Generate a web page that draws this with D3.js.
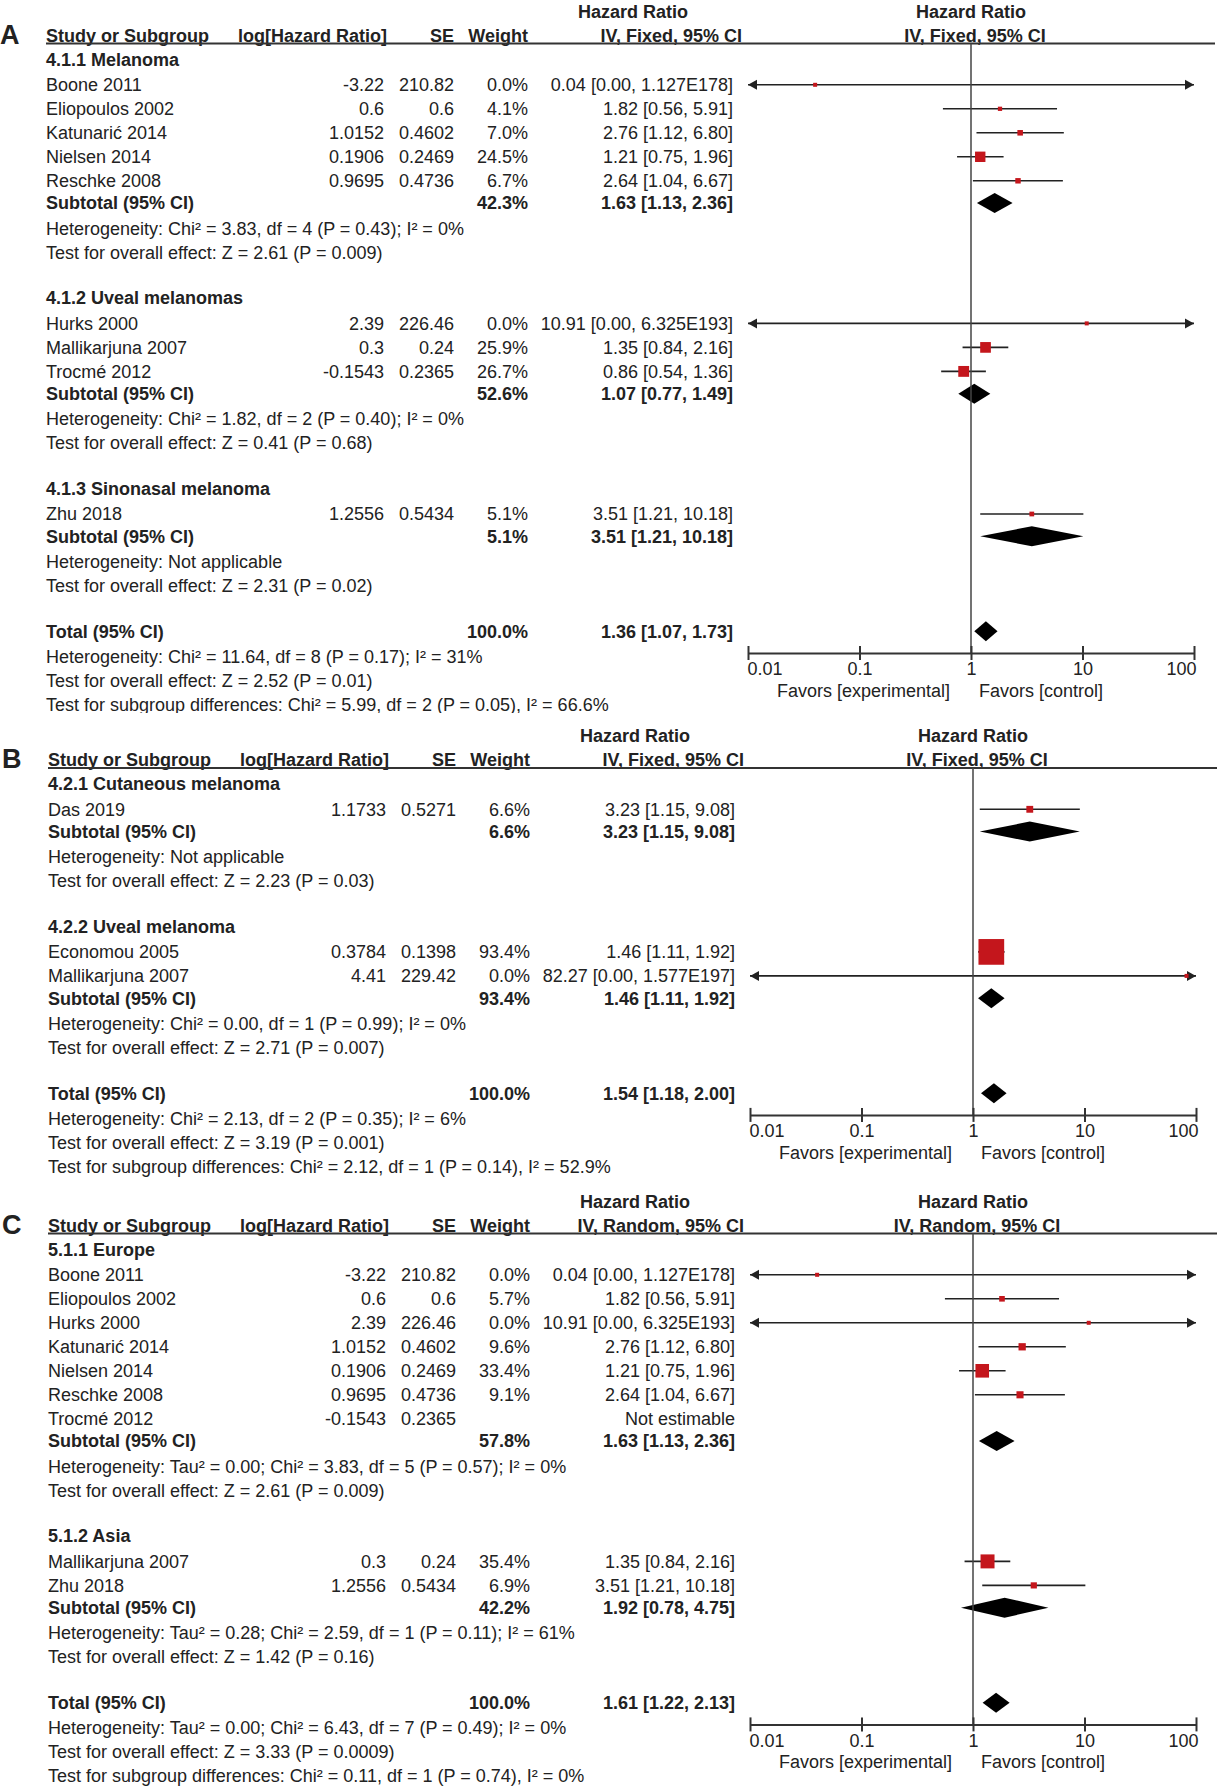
<!DOCTYPE html>
<html>
<head>
<meta charset="utf-8">
<script src="https://cdn.jsdelivr.net/npm/d3@7"></script>
<style>
  body { margin: 0; background: #fff; }
  text { font-family: "Liberation Sans", Arial, sans-serif; fill: #222; }
</style>
</head>
<body>
<svg id="chart"></svg>
<script>
// forest plots A, B, C - rows

// ---- data ----
var rowsA = [
  {type: "group", label: "4.1.1 Melanoma"},
  {type: "study", label: "Boone 2011", logHR: -3.22, se: 210.82, w: 0.0, hr: 0.04, lo: 0.00, hi: 1.127e178},
  {type: "study", label: "Eliopoulos 2002", logHR: 0.6, se: 0.6, w: 4.1, hr: 1.82, lo: 0.56, hi: 5.91},
  {type: "study", label: "Katunarić  2014", logHR: 1.0152, se: 0.4602, w: 7.0, hr: 2.76, lo: 1.12, hi: 6.80},
  {type: "study", label: "Nielsen 2014", logHR: 0.1906, se: 0.2469, w: 24.5, hr: 1.21, lo: 0.75, hi: 1.96},
  {type: "study", label: "Reschke 2008", logHR: 0.9695, se: 0.4736, w: 6.7, hr: 2.64, lo: 1.04, hi: 6.67},
  {type: "sub", label: "Subtotal (95% CI)", w: 42.3, hr: 1.63, lo: 1.13, hi: 2.36},
  {type: "note", label: "Heterogeneity: Chi² = 3.83, df = 4 (P = 0.43); I² = 0%"},
  {type: "note", label: "Test for overall effect: Z = 2.61 (P = 0.009)"},
  {type: "blank"},
  {type: "group", label: "4.1.2 Uveal melanomas"},
  {type: "study", label: "Hurks 2000", logHR: 2.39, se: 226.46, w: 0.0, hr: 10.91, lo: 0.00, hi: 6.325e193},
  {type: "study", label: "Mallikarjuna 2007", logHR: 0.3, se: 0.24, w: 25.9, hr: 1.35, lo: 0.84, hi: 2.16},
  {type: "study", label: "Trocmé 2012", logHR: -0.1543, se: 0.2365, w: 26.7, hr: 0.86, lo: 0.54, hi: 1.36},
  {type: "sub", label: "Subtotal (95% CI)", w: 52.6, hr: 1.07, lo: 0.77, hi: 1.49},
  {type: "note", label: "Heterogeneity: Chi² = 1.82, df = 2 (P = 0.40); I² = 0%"},
  {type: "note", label: "Test for overall effect: Z = 0.41 (P = 0.68)"},
  {type: "blank"},
  {type: "group", label: "4.1.3 Sinonasal melanoma"},
  {type: "study", label: "Zhu 2018", logHR: 1.2556, se: 0.5434, w: 5.1, hr: 3.51, lo: 1.21, hi: 10.18},
  {type: "sub", label: "Subtotal (95% CI)", w: 5.1, hr: 3.51, lo: 1.21, hi: 10.18},
  {type: "note", label: "Heterogeneity: Not applicable"},
  {type: "note", label: "Test for overall effect: Z = 2.31 (P = 0.02)"},
  {type: "blank"},
  {type: "total", label: "Total (95% CI)", w: 100.0, hr: 1.36, lo: 1.07, hi: 1.73},
  {type: "note", label: "Heterogeneity: Chi² = 11.64, df = 8 (P = 0.17); I² = 31%"},
  {type: "note", label: "Test for overall effect: Z = 2.52 (P = 0.01)"},
  {type: "note", label: "Test for subgroup differences: Chi² = 5.99, df = 2 (P = 0.05), I² = 66.6%"}
];

var rowsB = [
  {type: "group", label: "4.2.1 Cutaneous melanoma"},
  {type: "study", label: "Das 2019", logHR: 1.1733, se: 0.5271, w: 6.6, hr: 3.23, lo: 1.15, hi: 9.08},
  {type: "sub", label: "Subtotal (95% CI)", w: 6.6, hr: 3.23, lo: 1.15, hi: 9.08},
  {type: "note", label: "Heterogeneity: Not applicable"},
  {type: "note", label: "Test for overall effect: Z = 2.23 (P = 0.03)"},
  {type: "blank"},
  {type: "group", label: "4.2.2 Uveal melanoma"},
  {type: "study", label: "Economou 2005", logHR: 0.3784, se: 0.1398, w: 93.4, hr: 1.46, lo: 1.11, hi: 1.92},
  {type: "study", label: "Mallikarjuna 2007", logHR: 4.41, se: 229.42, w: 0.0, hr: 82.27, lo: 0.00, hi: 1.577e197},
  {type: "sub", label: "Subtotal (95% CI)", w: 93.4, hr: 1.46, lo: 1.11, hi: 1.92},
  {type: "note", label: "Heterogeneity: Chi² = 0.00, df = 1 (P = 0.99); I² = 0%"},
  {type: "note", label: "Test for overall effect: Z = 2.71 (P = 0.007)"},
  {type: "blank"},
  {type: "total", label: "Total (95% CI)", w: 100.0, hr: 1.54, lo: 1.18, hi: 2.00},
  {type: "note", label: "Heterogeneity: Chi² = 2.13, df = 2 (P = 0.35); I² = 6%"},
  {type: "note", label: "Test for overall effect: Z = 3.19 (P = 0.001)"},
  {type: "note", label: "Test for subgroup differences: Chi² = 2.12, df = 1 (P = 0.14), I² = 52.9%"}
];

var rowsC = [
  {type: "group", label: "5.1.1 Europe"},
  {type: "study", label: "Boone 2011", logHR: -3.22, se: 210.82, w: 0.0, hr: 0.04, lo: 0.00, hi: 1.127e178},
  {type: "study", label: "Eliopoulos 2002", logHR: 0.6, se: 0.6, w: 5.7, hr: 1.82, lo: 0.56, hi: 5.91},
  {type: "study", label: "Hurks 2000", logHR: 2.39, se: 226.46, w: 0.0, hr: 10.91, lo: 0.00, hi: 6.325e193},
  {type: "study", label: "Katunarić  2014", logHR: 1.0152, se: 0.4602, w: 9.6, hr: 2.76, lo: 1.12, hi: 6.80},
  {type: "study", label: "Nielsen 2014", logHR: 0.1906, se: 0.2469, w: 33.4, hr: 1.21, lo: 0.75, hi: 1.96},
  {type: "study", label: "Reschke 2008", logHR: 0.9695, se: 0.4736, w: 9.1, hr: 2.64, lo: 1.04, hi: 6.67},
  {type: "study", label: "Trocmé 2012", logHR: -0.1543, se: 0.2365, w: null, hr: null},
  {type: "sub", label: "Subtotal (95% CI)", w: 57.8, hr: 1.63, lo: 1.13, hi: 2.36},
  {type: "note", label: "Heterogeneity: Tau² = 0.00; Chi² = 3.83, df = 5 (P = 0.57); I² = 0%"},
  {type: "note", label: "Test for overall effect: Z = 2.61 (P = 0.009)"},
  {type: "blank"},
  {type: "group", label: "5.1.2 Asia"},
  {type: "study", label: "Mallikarjuna 2007", logHR: 0.3, se: 0.24, w: 35.4, hr: 1.35, lo: 0.84, hi: 2.16},
  {type: "study", label: "Zhu 2018", logHR: 1.2556, se: 0.5434, w: 6.9, hr: 3.51, lo: 1.21, hi: 10.18},
  {type: "sub", label: "Subtotal (95% CI)", w: 42.2, hr: 1.92, lo: 0.78, hi: 4.75},
  {type: "note", label: "Heterogeneity: Tau² = 0.28; Chi² = 2.59, df = 1 (P = 0.11); I² = 61%"},
  {type: "note", label: "Test for overall effect: Z = 1.42 (P = 0.16)"},
  {type: "blank"},
  {type: "total", label: "Total (95% CI)", w: 100.0, hr: 1.61, lo: 1.22, hi: 2.13},
  {type: "note", label: "Heterogeneity: Tau² = 0.00; Chi² = 6.43, df = 7 (P = 0.49); I² = 0%"},
  {type: "note", label: "Test for overall effect: Z = 3.33 (P = 0.0009)"},
  {type: "note", label: "Test for subgroup differences: Chi² = 0.11, df = 1 (P = 0.74), I² = 0%"}
];

var axisTicks = [0.01, 0.1, 1, 10, 100];
var tickLabels = ["0.01", "0.1", "1", "10", "100"];
var colHeaders = ["Study or Subgroup", "log[Hazard Ratio]", "SE", "Weight"];
var favorLabels = ["Favors [experimental]", "Favors [control]"];

// ---- layout ----
var WIDTH = 1218, HEIGHT = 1786;
var FS = 18, STEP = 24;
var RED = "#c4161c";

var panels = [
  {letter: "A", rows: rowsA, method: "IV, Fixed, 95% CI", headY: 35.5, dx: 0, k: 2.1, clipTop: 0, clipBottom: 713},
  {letter: "B", rows: rowsB, method: "IV, Fixed, 95% CI", headY: 760, dx: 2, k: 2.66, clipTop: 716, clipBottom: 1177},
  {letter: "C", rows: rowsC, method: "IV, Random, 95% CI", headY: 1225.5, dx: 2, k: 2.35, clipTop: 1180, clipBottom: 1786}
];

// vertical gap before a row, depends on what came before it
function gapBefore(prev, cur){
    if (cur == "blank") return 21.7;
    if (prev == "group") return 25.3;
    if (cur == "sub") return 22.3;
    if (cur == "note" && (prev == "sub" || prev == "total")) return 25.3;
    return STEP;
}

var svg = d3.select("#chart").attr("width", WIDTH).attr("height", HEIGHT);
svg.append("rect").attr("width", WIDTH).attr("height", HEIGHT).attr("fill", "#fff");

var x = d3.scaleLog().domain([0.01, 100]).range([748, 1194]);

function fmt(v){
    return v > 1e6 ? v.toExponential(3).replace("e+", "E") : v.toFixed(2);
}
function ciText(d){
    if (d.hr == null) return "Not estimable";
    return fmt(d.hr) + " [" + fmt(d.lo) + ", " + fmt(d.hi) + "]";
}

function txt(g, s, xx, yy, anchor, bold, size){
    return g.append("text")
        .text(s)
        .attr("x", xx)
        .attr("y", yy)
        .attr("dy", "0.35em")
        .attr("text-anchor", anchor || "start")
        .style("font-size", (size || FS) + "px")
        .style("font-weight", bold ? "bold" : "normal");
}

panels.forEach(function(p, n){
    svg.append("clipPath").attr("id", "clip" + n)
        .append("rect").attr("x", 0).attr("y", p.clipTop)
        .attr("width", WIDTH).attr("height", p.clipBottom - p.clipTop);

    var g = svg.append("g")
        .attr("clip-path", "url(#clip" + n + ")")
        .attr("transform", "translate(" + p.dx + ",0)");

    var hy = p.headY;

    // titles
    txt(g, "Hazard Ratio", 633, hy - STEP, "middle", true);
    txt(g, "Hazard Ratio", 971, hy - STEP, "middle", true);

    // column headers
    txt(g, colHeaders[0], 46, hy, "start", true);
    txt(g, colHeaders[1], 387, hy, "end", true);
    txt(g, colHeaders[2], 454, hy, "end", true);
    txt(g, colHeaders[3], 528, hy, "end", true);
    txt(g, p.method, 742, hy, "end", true);
    txt(g, p.method, 975, hy, "middle", true);

    g.append("line")
        .attr("x1", 46).attr("x2", 1215)
        .attr("y1", hy + 8).attr("y2", hy + 8)
        .attr("stroke", "#333").attr("stroke-width", 2);

    txt(svg, p.letter, p.dx, hy - 1, "start", true, 27);

    var totalY = 0, y = hy, prev = "head";
    p.rows.forEach(function(d){
        y += (prev == "head") ? STEP : gapBefore(prev, d.type);
        prev = d.type;
        if (d.type == "group") {
            txt(g, d.label, 46, y, "start", true);
        } else if (d.type == "note") {
            txt(g, d.label, 46, y, "start", false);
        } else if (d.type == "study") {
            txt(g, d.label, 46, y, "start", false);
            txt(g, String(d.logHR), 384, y, "end", false);
            txt(g, String(d.se), 454, y, "end", false);
            if (d.w != null) txt(g, d.w.toFixed(1) + "%", 528, y, "end", false);
            txt(g, ciText(d), 733, y, "end", false);

            if (d.hr != null) {
                var lo = Math.max(d.lo, 0.01), hi = Math.min(d.hi, 100);
                g.append("line")
                    .attr("x1", x(lo)).attr("x2", x(hi))
                    .attr("y1", y).attr("y2", y)
                    .attr("stroke", "#222").attr("stroke-width", 1.6);
                if (d.lo < 0.01) {
                    var ax = x(0.01);
                    g.append("path").attr("d", "M" + ax + "," + y + "l9,-5l0,10z").attr("fill", "#222");
                }
                if (d.hi > 100) {
                    var bx = x(100);
                    g.append("path").attr("d", "M" + bx + "," + y + "l-9,-5l0,10z").attr("fill", "#222");
                }
                var s = Math.max(4, p.k * Math.sqrt(d.w));
                g.append("rect")
                    .attr("x", x(d.hr) - s / 2).attr("y", y - s / 2)
                    .attr("width", s).attr("height", s)
                    .attr("fill", RED);
            }
        } else if (d.type == "sub" || d.type == "total") {
            txt(g, d.label, 46, y, "start", true);
            txt(g, d.w.toFixed(1) + "%", 528, y, "end", true);
            txt(g, ciText(d), 733, y, "end", true);
            g.append("path")
                .attr("d", "M" + x(d.lo) + "," + y +
                           "L" + x(d.hr) + "," + (y - 10) +
                           "L" + x(d.hi) + "," + y +
                           "L" + x(d.hr) + "," + (y + 10) + "Z")
                .attr("fill", "#000");
            if (d.type == "total") totalY = y;
        }
    });

    var axisY = totalY + 21.7;

    // no-effect line
    g.append("line")
        .attr("x1", x(1)).attr("x2", x(1))
        .attr("y1", hy + 8).attr("y2", axisY)
        .attr("stroke", "#444").attr("stroke-width", 1.5);

    var axis = d3.axisBottom(x)
        .tickValues(axisTicks)
        .tickFormat(function(d, i){ return tickLabels[i]; })
        .tickSizeOuter(0);

    var ag = g.append("g")
        .attr("transform", "translate(0," + axisY + ")")
        .call(axis);
    ag.select(".domain").attr("stroke", "#333").attr("stroke-width", 2);
    ag.selectAll(".tick line").attr("y1", -7).attr("y2", 7).attr("stroke", "#333").attr("stroke-width", 2);
    ag.selectAll(".tick text")
        .attr("y", 16).attr("dy", "0.35em")
        .style("font-size", FS + "px")
        .style("font-family", "Liberation Sans, Arial, sans-serif")
        .attr("fill", "#222")
        .attr("text-anchor", function(d, i){ return i == 0 ? "start" : (i == axisTicks.length - 1 ? "end" : "middle"); })
        .attr("dx", function(d, i){ return i == 0 ? -1 : (i == axisTicks.length - 1 ? 2 : 0); });

    txt(g, favorLabels[0], x(1) - 21, axisY + 37.7, "end", false);
    txt(g, favorLabels[1], x(1) + 8, axisY + 37.7, "start", false);
});
</script>
</body>
</html>
